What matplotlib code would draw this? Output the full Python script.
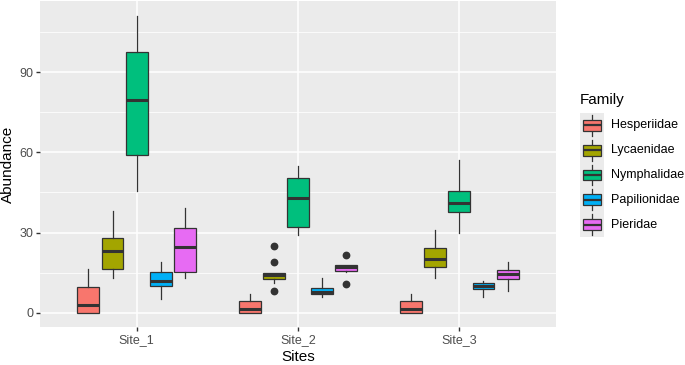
import matplotlib
matplotlib.use("Agg")
import matplotlib.pyplot as plt
import matplotlib.patches as mpatches

plt.rcParams['font.family'] = ['Liberation Sans', 'DejaVu Sans']

sites = ["Site_1", "Site_2", "Site_3"]
families = ["Hesperiidae", "Lycaenidae", "Nymphalidae", "Papilionidae", "Pieridae"]
colors = ["#F8766D", "#A3A500", "#00BF7D", "#00B0F6", "#E76BF3"]

# per family: values for Site_1, Site_2, Site_3
whislo = {
    "Hesperiidae": [0, 0, 0],
    "Lycaenidae": [13.1, 11.1, 13.0],
    "Nymphalidae": [45.4, 29.1, 30.0],
    "Papilionidae": [5.1, 5.9, 6.0],
    "Pieridae": [13.1, 15.3, 8.1],
}
q1 = {
    "Hesperiidae": [0, 0, 0],
    "Lycaenidae": [16.4, 12.75, 17.25],
    "Nymphalidae": [59.1, 32.1, 37.5],
    "Papilionidae": [10.0, 6.9, 8.9],
    "Pieridae": [15.1, 15.6, 12.6],
}
med = {
    "Hesperiidae": [2.9, 1.25, 1.25],
    "Lycaenidae": [22.9, 13.9, 19.9],
    "Nymphalidae": [79.6, 43.0, 41.1],
    "Papilionidae": [12.0, 7.9, 10.0],
    "Pieridae": [24.5, 17.0, 14.4],
}
q3 = {
    "Hesperiidae": [9.5, 4.5, 4.5],
    "Lycaenidae": [28.0, 15.0, 24.1],
    "Nymphalidae": [97.6, 50.4, 45.6],
    "Papilionidae": [15.25, 9.4, 11.25],
    "Pieridae": [31.6, 18.0, 16.1],
}
whishi = {
    "Hesperiidae": [16.25, 7.1, 7.1],
    "Lycaenidae": [38.1, 15.0, 30.9],
    "Nymphalidae": [111.0, 55.0, 57.25],
    "Papilionidae": [19.1, 12.9, 12.0],
    "Pieridae": [39.1, 18.0, 19.0],
}
outliers = {
    "Hesperiidae": [[], [], []],
    "Lycaenidae": [[], [25.0, 18.9, 8.0], []],
    "Nymphalidae": [[], [], []],
    "Papilionidae": [[], [], []],
    "Pieridae": [[], [21.75, 10.9], []],
}

W, H = 685, 365
fig = plt.figure(figsize=(W / 100, H / 100), dpi=100)
ax = fig.add_axes([40 / W, 1 - 327.3 / H, (556 - 40) / W, (327.3 - 1) / H])
ax.set_facecolor("#EBEBEB")

slot = 0.15
edge = "#333333"
for fi, fam in enumerate(families):
    stats = []
    positions = []
    for si in range(len(sites)):
        stats.append(dict(med=med[fam][si], q1=q1[fam][si], q3=q3[fam][si],
                          whislo=whislo[fam][si], whishi=whishi[fam][si],
                          fliers=outliers[fam][si]))
        positions.append(si + 1 + (fi - 2) * slot)
    ax.bxp(stats, positions=positions, widths=slot * 0.9, patch_artist=True,
           showcaps=False, manage_ticks=False,
           boxprops=dict(facecolor=colors[fi], edgecolor=edge, linewidth=0.9),
           medianprops=dict(color=edge, linewidth=2.2, solid_capstyle='butt'),
           whiskerprops=dict(color=edge, linewidth=0.9),
           flierprops=dict(marker='o', markerfacecolor=edge, markeredgecolor=edge,
                           markersize=4.6, linestyle='none'), zorder=3)

ax.set_xlim(0.4, 3.6)
ax.set_ylim(-5.5, 116.7)
ax.set_xticks([1, 2, 3])
ax.set_xticklabels(sites)
ax.set_yticks([0, 30, 60, 90])
ax.set_yticks([15, 45, 75, 105], minor=True)
ax.grid(True, which='major', color='white', linewidth=1.1, zorder=0)
ax.grid(True, which='minor', axis='y', color='white', linewidth=0.55, zorder=0)
ax.set_axisbelow(True)
for s in ax.spines.values():
    s.set_visible(False)
ax.tick_params(axis='both', which='major', length=3, width=1, color=edge,
               labelcolor='#4D4D4D', labelsize=9, pad=2)
ax.tick_params(axis='both', which='minor', length=0)
ax.set_xlabel("Sites", fontsize=11, labelpad=3)
ax.set_ylabel("Abundance", fontsize=11, labelpad=3)

# legend
lax = fig.add_axes([580 / W, 1 - 237 / H, 24 / W, 124 / H])
lax.set_xlim(0, 1)
lax.set_ylim(0, len(families))
lax.axis('off')
for fi, fam in enumerate(families):
    y0 = len(families) - 1 - fi
    lax.add_patch(mpatches.Rectangle((0, y0), 1, 1, facecolor="#EBEBEB", edgecolor='none'))
    lax.plot([0.5, 0.5], [y0 + 0.08, y0 + 0.92], color=edge, lw=0.9)
    lax.add_patch(mpatches.Rectangle((0.12, y0 + 0.28), 0.76, 0.44, facecolor=colors[fi],
                                     edgecolor=edge, lw=0.9, zorder=3))
    lax.plot([0.12, 0.88], [y0 + 0.5, y0 + 0.5], color=edge, lw=1.6, zorder=4,
             solid_capstyle='butt')
    lax.text(1.3, y0 + 0.5, fam, transform=lax.transData, fontsize=9,
             va='center', ha='left', color='black', clip_on=False)
fig.text(580 / W, 1 - 100 / H, "Family", fontsize=11, va='center', ha='left')

fig.savefig("out.png", dpi=100)
